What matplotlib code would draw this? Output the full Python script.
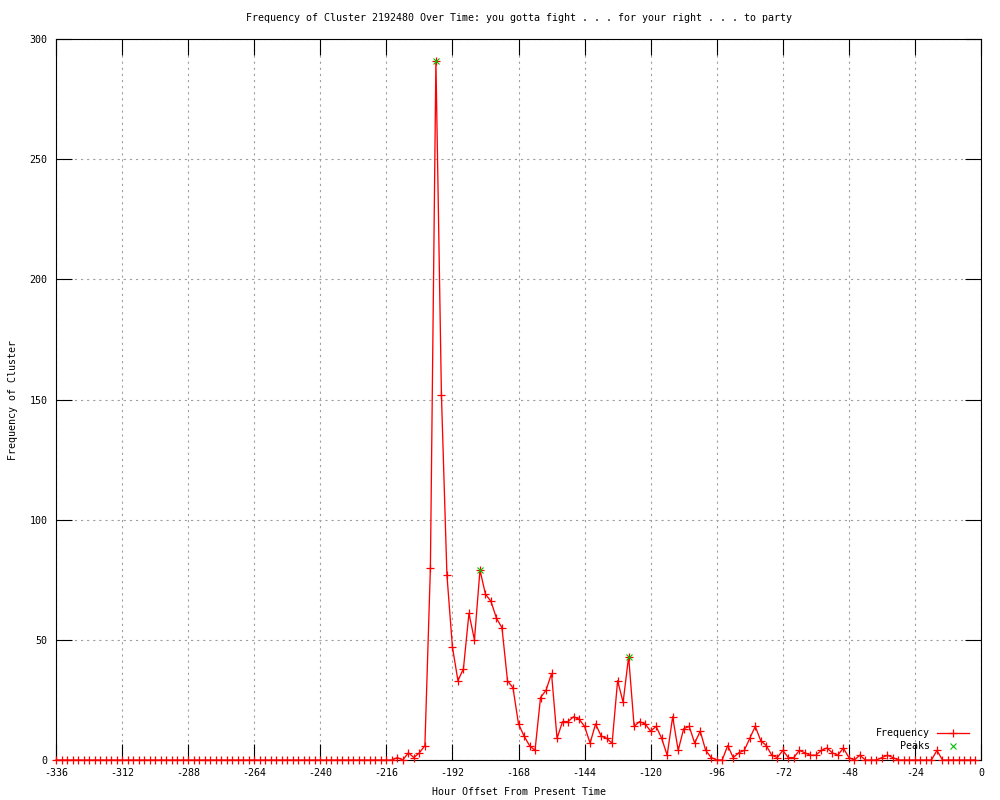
import matplotlib
matplotlib.use("Agg")
import matplotlib.pyplot as plt
import numpy as np

plt.rcParams['font.family'] = ['DejaVu Sans Mono']
plt.rcParams['font.size'] = 7.2
plt.rcParams['axes.unicode_minus'] = False

# hours (offset from present), every 2 hours
hours = list(range(-336, 0, 2))

# frequency values from -218 onward (earlier hours are zero)
active_hours = list(range(-218, 0, 2))
active_values = [
    0, 0, 0, 1, 0, 3, 1, 3, 6,          # -218 .. -202
    80, 291, 152, 77, 47, 33, 38, 61, 50, 79,   # -200 .. -182
    69, 66, 59, 55, 33, 30, 15, 10, 6, 4,       # -180 .. -162
    26, 29, 36, 9, 16, 16, 18, 17, 14, 7,       # -160 .. -142
    15, 10, 9, 7, 33, 24, 43, 14, 16, 15,       # -140 .. -122
    12, 14, 9, 2, 18, 4, 13, 14, 7, 12,         # -120 .. -102
    4, 1, 0, 0, 6, 1, 3, 4, 9, 14,              # -100 .. -82
    8, 6, 2, 1, 4, 1, 1, 4, 3, 2,               # -80 .. -62
    2, 4, 5, 3, 2, 5, 1, 0, 2, 0,               # -60 .. -42
    0, 0, 1, 2, 1, 0, 0, 0, 0, 0,               # -40 .. -22
    0, 0, 4, 0, 0, 0, 0, 0, 0, 0,               # -20 .. -2
]
lookup = dict(zip(active_hours, active_values))
frequency = [lookup.get(h, 0) for h in hours]

peak_hours = [-198, -182, -128]
peak_values = [291, 79, 43]

x_ticks = list(range(-336, 1, 24))
y_ticks = list(range(0, 301, 50))

title = "Frequency of Cluster 2192480 Over Time: you gotta fight . . . for your right . . . to party"

fig = plt.figure(figsize=(10, 8), dpi=100)
ax = fig.add_axes([0.056, 0.05, 0.925, 0.90125])

red = '#ff0000'
green = '#00c000'

ax.plot(hours, frequency, color=red, lw=0.95, marker='+', ms=5.8, mew=0.9,
        clip_on=False, zorder=3)
ax.plot(peak_hours, peak_values, linestyle='none', color=green, marker='x',
        ms=5, mew=0.8, clip_on=False, zorder=4)

ax.set_xlim(-336, 0)
ax.set_ylim(0, 300)
ax.set_xticks(x_ticks)
ax.set_yticks(y_ticks)
ax.set_xticklabels([str(t) for t in x_ticks])
ax.set_yticklabels([str(t) for t in y_ticks])

ax.grid(True, color='#a0a0a0', lw=0.8, linestyle=(0, (2, 3.5)))
ax.set_axisbelow(True)
ax.tick_params(direction='in', length=11.5, width=0.8, top=True, right=True,
               pad=6, color='black')
for s in ax.spines.values():
    s.set_linewidth(0.8)
    s.set_color('black')

ax.set_title(title, pad=13, fontsize=7.2)
ax.set_xlabel("Hour Offset From Present Time")
ax.xaxis.set_label_coords(0.5, -0.038)
ax.set_ylabel("Frequency of Cluster")
ax.yaxis.set_label_coords(-0.041, 0.5)

# key (bottom right, inside)
ax.text(0.9449, 0.0374, "Frequency", transform=ax.transAxes, ha='right', va='center')
ax.text(0.9449, 0.0194, "Peaks", transform=ax.transAxes, ha='right', va='center')
ax.plot([0.9524, 0.987], [0.0374, 0.0374], transform=ax.transAxes, color=red, lw=0.95,
        clip_on=False)
ax.plot([0.9697], [0.0374], transform=ax.transAxes, color=red, marker='+', ms=5.8,
        mew=0.9, clip_on=False)
ax.plot([0.9697], [0.0194], transform=ax.transAxes, color=green, marker='x', ms=5,
        mew=0.8, clip_on=False)

fig.savefig("out.png", dpi=100)
